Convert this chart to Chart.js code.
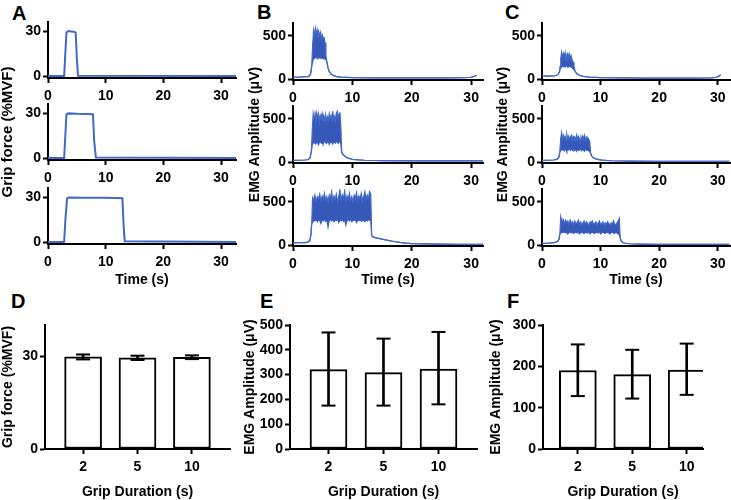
<!DOCTYPE html>
<html>
<head>
<meta charset="utf-8">
<script src="https://cdn.jsdelivr.net/npm/chart.js@4.4.1/dist/chart.umd.min.js"></script>
<style>
  body { margin: 0; background: #fff; width: 731px; height: 500px; position: relative; overflow: hidden; font-family: "Liberation Sans", Arial, sans-serif; }
  canvas { position: absolute; }
  .lab { position: absolute; font-weight: bold; font-size: 20px; line-height: 20px; color: #000; }
</style>
</head>
<body>
<div class="lab" style="left:12px;top:3px">A</div>
<div class="lab" style="left:257px;top:2px">B</div>
<div class="lab" style="left:505px;top:2px">C</div>
<div class="lab" style="left:11px;top:291px">D</div>
<div class="lab" style="left:260px;top:291px">E</div>
<div class="lab" style="left:507px;top:291px">F</div>
<script>
// ---- tick values / categories
var timeTicks = [0, 10, 20, 30];
var forceTicks = [0, 30];
var emgTicks = [0, 500];
var durations = ['2', '5', '10'];
var barForceTicks = [0, 30];
var barEmgBTicks = [0, 100, 200, 300, 400, 500];
var barEmgCTicks = [0, 100, 200, 300];

// ---- A: grip force traces (%MVF)
var fT2 = [0, 2.8, 3.0, 3.2, 3.5, 4.0, 4.5, 4.8, 5.0, 5.2, 32.6];
var f2  = [0.3, 0.3, 15, 29, 30, 29.8, 29.6, 29, 12, 0.5, 0.3];
var fT5 = [0, 2.8, 3.0, 3.2, 3.5, 5, 6.5, 7.8, 8.0, 8.3, 32.6];
var f5  = [0.3, 0.3, 15, 29, 29.8, 29.5, 29.4, 29.2, 12, 0.6, 0.3];
var fT10 = [0, 2.8, 3.0, 3.3, 3.6, 6, 9, 12, 12.9, 13.1, 13.3, 32.6];
var f10  = [0.3, 0.3, 14, 29, 29.8, 29.6, 29.5, 29.4, 29.3, 12, 0.8, 0.4];

// ---- B: EMG traces (uV), burst drawn as upper/lower envelope
var b1PreT = [0, 1, 2, 2.5, 2.8, 3.0, 3.15];
var b1Pre  = [25, 22, 28, 30, 40, 70, 150];
var b1T  = [3.3, 3.45, 3.6, 3.75, 3.9, 4.05, 4.2, 4.35, 4.5, 4.65, 4.8, 4.95, 5.1, 5.25, 5.4, 5.55];
var b1Hi = [380, 560, 500, 590, 520, 570, 480, 550, 500, 540, 460, 510, 470, 480, 420, 270];
var b1Lo = [200, 230, 240, 250, 245, 250, 240, 255, 245, 250, 240, 245, 235, 240, 230, 225];
var b1PostT = [5.7, 5.9, 6.1, 6.4, 6.8, 7.3, 8, 10, 14, 18, 22, 26, 29, 30, 30.5, 30.9];
var b1Post  = [200, 130, 90, 60, 42, 30, 24, 18, 15, 14, 14, 14, 16, 22, 32, 45];

var b2PreT = [0, 1, 2, 2.6, 2.9, 3.1];
var b2Pre  = [20, 22, 25, 30, 55, 130];
var b2T  = [3.25, 3.4, 3.55, 3.7, 3.85, 4.0, 4.15, 4.3, 4.45, 4.6, 4.75, 4.9, 5.05, 5.2, 5.35, 5.5, 5.65, 5.8, 5.95, 6.1, 6.25, 6.4, 6.55, 6.7, 6.85, 7.0, 7.15, 7.3, 7.45, 7.6, 7.75, 7.9, 8.05];
var b2Hi = [380, 560, 500, 590, 480, 570, 510, 560, 470, 540, 500, 560, 470, 530, 480, 550, 460, 520, 480, 560, 500, 540, 470, 590, 490, 530, 480, 570, 590, 500, 560, 580, 430];
var b2Lo = [200, 230, 220, 240, 210, 235, 225, 200, 230, 240, 220, 235, 210, 230, 245, 225, 215, 235, 240, 205, 230, 225, 240, 210, 235, 230, 220, 245, 230, 215, 235, 240, 210];
var b2PostT = [8.2, 8.4, 8.7, 9.0, 9.5, 10, 11, 12, 15, 20, 25, 30, 32];
var b2Post  = [120, 90, 70, 55, 42, 32, 26, 22, 18, 15, 14, 14, 14];

var b3PreT = [0, 1, 2, 2.5, 2.8, 3.0, 3.15];
var b3Pre  = [25, 28, 30, 35, 50, 110, 250];
var b3T  = [3.3, 3.5, 3.7, 3.9, 4.1, 4.3, 4.5, 4.7, 4.9, 5.1, 5.3, 5.5, 5.7, 5.9, 6.1, 6.3, 6.5, 6.7, 6.9, 7.1, 7.3, 7.5, 7.7, 7.9, 8.1, 8.3, 8.5, 8.7, 8.9, 9.1, 9.3, 9.5, 9.7, 9.9, 10.1, 10.3, 10.5, 10.7, 10.9, 11.1, 11.3, 11.5, 11.7, 11.9, 12.1, 12.3, 12.5, 12.7, 12.9, 13.1];
var b3Hi = [550, 520, 580, 500, 560, 540, 590, 510, 570, 530, 600, 520, 560, 500, 580, 540, 620, 510, 570, 530, 590, 500, 560, 640, 520, 580, 540, 630, 510, 570, 530, 600, 520, 560, 500, 580, 540, 610, 520, 570, 540, 600, 510, 560, 620, 530, 580, 540, 620, 590];
var b3Lo = [260, 290, 280, 300, 270, 295, 285, 250, 290, 280, 300, 275, 290, 210, 285, 295, 280, 300, 270, 290, 285, 300, 260, 290, 280, 300, 275, 290, 230, 285, 295, 280, 300, 270, 290, 285, 300, 260, 290, 280, 300, 275, 290, 285, 270, 295, 280, 300, 285, 280];
var b3PostT = [13.25, 13.5, 14, 15, 16, 17, 18, 19, 20, 22, 25, 28, 32];
var b3Post  = [110, 95, 85, 70, 55, 42, 32, 24, 18, 14, 12, 10, 10];

// ---- C: EMG traces (uV)
var c1PreT = [0, 1, 2, 2.5, 2.8, 3.0, 3.1];
var c1Pre  = [40, 35, 38, 45, 60, 90, 140];
var c1T  = [3.2, 3.35, 3.5, 3.65, 3.8, 3.95, 4.1, 4.25, 4.4, 4.55, 4.7, 4.85, 5.0, 5.15, 5.3, 5.45];
var c1Hi = [240, 310, 250, 300, 270, 310, 220, 290, 300, 250, 290, 240, 270, 220, 200, 160];
var c1Lo = [130, 140, 150, 145, 150, 140, 170, 150, 145, 140, 150, 145, 140, 130, 120, 110];
var c1PostT = [5.6, 5.8, 6.0, 6.3, 6.6, 7, 7.5, 8, 9, 10, 14, 18, 22, 26, 29, 29.8, 30.2, 30.5];
var c1Post  = [100, 75, 60, 48, 40, 33, 28, 24, 20, 17, 14, 12, 12, 12, 15, 22, 35, 50];

var c2PreT = [0, 1, 2, 2.6, 2.9, 3.05];
var c2Pre  = [20, 22, 25, 35, 60, 120];
var c2T  = [3.2, 3.35, 3.5, 3.65, 3.8, 3.95, 4.1, 4.25, 4.4, 4.55, 4.7, 4.85, 5.0, 5.15, 5.3, 5.45, 5.6, 5.75, 5.9, 6.05, 6.2, 6.35, 6.5, 6.65, 6.8, 6.95, 7.1, 7.25, 7.4, 7.55, 7.7, 7.85, 8.0, 8.15];
var c2Hi = [280, 340, 260, 310, 280, 300, 250, 320, 270, 300, 260, 290, 310, 250, 300, 270, 290, 250, 310, 260, 300, 280, 250, 290, 260, 300, 270, 310, 250, 290, 270, 280, 260, 240];
var c2Lo = [130, 150, 140, 155, 130, 145, 150, 125, 150, 140, 160, 135, 145, 150, 130, 155, 140, 145, 125, 150, 140, 135, 155, 145, 130, 150, 140, 125, 150, 145, 135, 140, 130, 120];
var c2PostT = [8.3, 8.5, 8.8, 9.2, 9.7, 10.3, 11, 12, 15, 20, 25, 32];
var c2Post  = [100, 70, 50, 38, 30, 24, 20, 16, 12, 10, 10, 10];

var c3PreT = [0, 1, 2, 2.6, 2.9, 3.05];
var c3Pre  = [20, 22, 28, 40, 65, 130];
var c3T  = [3.2, 3.4, 3.6, 3.8, 4.0, 4.2, 4.4, 4.6, 4.8, 5.0, 5.2, 5.4, 5.6, 5.8, 6.0, 6.2, 6.4, 6.6, 6.8, 7.0, 7.2, 7.4, 7.6, 7.8, 8.0, 8.2, 8.4, 8.6, 8.8, 9.0, 9.2, 9.4, 9.6, 9.8, 10.0, 10.2, 10.4, 10.6, 10.8, 11.0, 11.2, 11.4, 11.6, 11.8, 12.0, 12.2, 12.4, 12.6, 12.8, 13.0, 13.2];
var c3Hi = [330, 270, 300, 250, 290, 260, 280, 240, 290, 250, 270, 230, 280, 250, 260, 290, 240, 270, 230, 260, 280, 240, 270, 250, 230, 270, 260, 280, 240, 250, 270, 230, 260, 280, 240, 250, 270, 230, 260, 240, 270, 250, 230, 260, 240, 280, 250, 230, 260, 280, 310];
var c3Lo = [140, 150, 145, 155, 140, 150, 130, 145, 155, 140, 150, 135, 145, 150, 140, 155, 130, 145, 150, 140, 135, 150, 145, 140, 155, 130, 145, 150, 140, 135, 150, 145, 140, 155, 130, 145, 150, 140, 135, 150, 145, 140, 130, 150, 145, 140, 135, 150, 140, 130, 120];
var c3PostT = [13.35, 13.5, 13.8, 14.2, 15, 17, 20, 25, 32];
var c3Post  = [90, 50, 30, 22, 16, 12, 10, 8, 8];

// ---- D-F: means and error bar ends
var forceMean = [29.7, 29.4, 29.6];
var forceLo   = [28.9, 28.7, 29.0];
var forceHi   = [30.5, 30.1, 30.2];
var emgBMean = [320, 308, 322];
var emgBLo   = [175, 175, 180];
var emgBHi   = [470, 445, 472];
var emgCMean = [190, 180, 191];
var emgCLo   = [128, 122, 131];
var emgCHi   = [253, 240, 255];

var FONT = '"Liberation Sans", Arial, sans-serif';
var BLUE = '#4169c8';
var BAND = '#3658b9';
var tickFont = {family: FONT, size: 14, weight: 'bold'};

function addCanvas(box) {
    var c = document.createElement('canvas');
    c.width = box.r - box.l + box.pl + box.pr;
    c.height = box.b - box.t + box.pt + box.pb;
    c.style.left = (box.l - box.pl) + 'px';
    c.style.top = (box.t - box.pt) + 'px';
    document.body.appendChild(c);
    return c;
}

function yTitle(text, size, pad) {
    return {display: true, text: text, color: '#000', padding: {top: pad, bottom: 0},
            font: {family: FONT, size: size, weight: 'bold', lineHeight: 1}};
}
function xTitle(text, pad) {
    return {display: true, text: text, color: '#000', padding: {top: 0, bottom: pad},
            font: {family: FONT, size: 14, weight: 'bold', lineHeight: 1}};
}

function axis(min, max, vals, fit, horizontal, pad, label, title) {
    return {
        type: 'linear', min: min, max: max, offset: false,
        afterBuildTicks: function(s) { s.ticks = vals.map(function(v) { return {value: v}; }); },
        afterFit: function(s) { if (horizontal) s.height = fit; else s.width = fit; },
        grid: {display: true, offset: false, drawOnChartArea: false, drawTicks: true, tickLength: 5, tickWidth: 2, color: '#000'},
        border: {display: true, color: '#000', width: 2},
        ticks: {color: '#000', font: tickFont, padding: pad, maxRotation: 0, autoSkip: false, callback: label},
        title: title || {display: false}
    };
}

function pts(t, v) {
    return t.map(function(x, i) { return {x: x, y: v[i]}; });
}

function forceSet(t, v) {
    return [{data: pts(t, v), borderColor: BLUE, borderWidth: 2, fill: false}];
}

function emgSet(preT, pre, t, hi, lo, postT, post) {
    var tt = preT.concat(t, postT);
    return [
        {data: pts(tt, pre.concat(hi, post)), borderColor: BLUE, backgroundColor: BAND, borderWidth: 1.2, fill: '+1'},
        {data: pts(tt, pre.concat(lo, post)), borderColor: BLUE, borderWidth: 1.2, fill: false}
    ];
}

function lineChart(box, datasets, xMax, yMin, yMax, yVals, xt, yt) {
    new Chart(addCanvas(box), {
        type: 'line',
        data: {datasets: datasets},
        options: {
            responsive: false, animation: false, events: [],
            layout: {padding: {left: 0, top: box.pt, right: box.pr, bottom: 0}},
            plugins: {legend: {display: false}, tooltip: {enabled: false}},
            elements: {point: {radius: 0}, line: {tension: 0}},
            scales: {
                x: axis(0, xMax, timeTicks, box.pb, true, 5, function(v) { return v; }, xt),
                y: axis(yMin, yMax, yVals, box.pl, false, 2, function(v) { return v; }, yt)
            }
        }
    });
}

function barChart(box, xMin, xMax, mean, lo, hi, yMax, yVals, yt) {
    var pos = durations.map(function(d, i) { return i + 1; });
    var caps = [];
    pos.forEach(function(x, i) { caps.push({x: x, y: lo[i]}, {x: x, y: hi[i]}); });
    new Chart(addCanvas(box), {
        type: 'bar',
        data: {datasets: [
            {type: 'scatter', data: caps, pointStyle: 'line', pointRadius: 7,
             pointBorderColor: '#000', pointBackgroundColor: '#000', pointBorderWidth: 2, order: 1},
            {type: 'bar', data: pos.map(function(x, i) { return {x: x, y: [lo[i], hi[i]]}; }),
             backgroundColor: '#000', borderWidth: 0, barThickness: 2, grouped: false, order: 2},
            {type: 'bar', data: pos.map(function(x, i) { return {x: x, y: mean[i]}; }),
             backgroundColor: '#fff', borderColor: '#000', borderWidth: 2, borderSkipped: false,
             barThickness: 37, grouped: false, order: 3}
        ]},
        options: {
            responsive: false, animation: false, events: [],
            layout: {padding: {left: 0, top: box.pt, right: box.pr, bottom: 0}},
            plugins: {legend: {display: false}, tooltip: {enabled: false}},
            scales: {
                x: axis(xMin, xMax, pos, box.pb, true, 5, function(v) { return durations[v - 1]; }, xTitle('Grip Duration (s)', 0)),
                y: axis(0, yMax, yVals, box.pl, false, 2, function(v) { return v; }, yt)
            }
        }
    });
}

// A column (middle canvas is tall so the shared y title fits)
lineChart({l: 48, r: 236, t: 22, b: 78, pl: 48, pt: 12, pr: 2, pb: 26}, forceSet(fT2, f2), 32.6, -1, 36, forceTicks);
lineChart({l: 48, r: 236, t: 104, b: 160, pl: 48, pt: 60, pr: 2, pb: 60}, forceSet(fT5, f5), 32.6, -1, 36, forceTicks,
          null, yTitle('Grip force (%MVF)', 15, 0.5));
lineChart({l: 48, r: 236, t: 188, b: 244, pl: 48, pt: 12, pr: 2, pb: 45}, forceSet(fT10, f10), 32.6, -1, 36, forceTicks,
          xTitle('Time (s)', 2));

// B column
lineChart({l: 293, r: 483, t: 23, b: 80, pl: 50, pt: 12, pr: 2, pb: 26},
          emgSet(b1PreT, b1Pre, b1T, b1Hi, b1Lo, b1PostT, b1Post), 32, -10, 650, emgTicks);
lineChart({l: 293, r: 483, t: 106, b: 163, pl: 50, pt: 60, pr: 2, pb: 60},
          emgSet(b2PreT, b2Pre, b2T, b2Hi, b2Lo, b2PostT, b2Post), 32, -10, 650, emgTicks,
          null, yTitle('EMG Amplitude (μV)', 14, 5));
lineChart({l: 293, r: 483, t: 189, b: 246, pl: 50, pt: 12, pr: 2, pb: 43},
          emgSet(b3PreT, b3Pre, b3T, b3Hi, b3Lo, b3PostT, b3Post), 32, -10, 650, emgTicks,
          xTitle('Time (s)', 2));

// C column
lineChart({l: 542, r: 730, t: 23, b: 80, pl: 50, pt: 12, pr: 1, pb: 26},
          emgSet(c1PreT, c1Pre, c1T, c1Hi, c1Lo, c1PostT, c1Post), 32.1, -10, 650, emgTicks);
lineChart({l: 542, r: 730, t: 106, b: 163, pl: 50, pt: 60, pr: 1, pb: 60},
          emgSet(c2PreT, c2Pre, c2T, c2Hi, c2Lo, c2PostT, c2Post), 32.1, -10, 650, emgTicks,
          null, yTitle('EMG Amplitude (μV)', 14, 4));
lineChart({l: 542, r: 730, t: 189, b: 246, pl: 50, pt: 12, pr: 1, pb: 43},
          emgSet(c3PreT, c3Pre, c3T, c3Hi, c3Lo, c3PostT, c3Post), 32.1, -10, 650, emgTicks,
          xTitle('Time (s)', 2));

// bar panels
barChart({l: 45, r: 237, t: 325, b: 449, pl: 45, pt: 14, pr: 2, pb: 50}, 0.3, 3.7,
         forceMean, forceLo, forceHi, 40, barForceTicks, yTitle('Grip force (%MVF)', 14, 1));
barChart({l: 290, r: 484, t: 325, b: 449, pl: 50, pt: 14, pr: 2, pb: 50}, 0.3, 3.7,
         emgBMean, emgBLo, emgBHi, 500, barEmgBTicks, yTitle('EMG Amplitude (μV)', 14, 3));
barChart({l: 543, r: 710, t: 325, b: 449, pl: 55, pt: 14, pr: 2, pb: 50}, 0.36, 3.3,
         emgCMean, emgCLo, emgCHi, 300, barEmgCTicks, yTitle('EMG Amplitude (μV)', 14, 1));
</script>
</body>
</html>
